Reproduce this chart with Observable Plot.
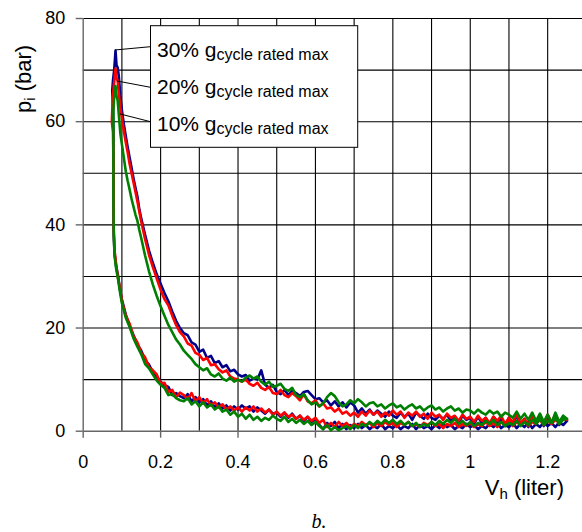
<!DOCTYPE html>
<html><head><meta charset="utf-8">
<script src="https://cdn.jsdelivr.net/npm/d3@7"></script>
<script src="https://cdn.jsdelivr.net/npm/@observablehq/plot@0.6"></script>
<style>
body{margin:0;background:#fff;}
#chart{width:582px;height:532px;overflow:hidden;}
</style></head><body><div id="chart"></div>
<script>
// ---- axis ticks / grid ----
const xTicks = [0, 0.2, 0.4, 0.6, 0.8, 1, 1.2];
const xGrid = [0.1,0.2,0.3,0.4,0.5,0.6,0.7,0.8,0.9,1.0,1.1,1.2];
const yTicks = [0, 20, 40, 60, 80];
const yGrid = [10,20,30,40,50,60,70,80];
const seriesNames = ["30%", "20%", "10%"];
const legendSub = "cycle rated max";

// ---- shared volume grid for the noisy low-pressure part (liter) ----
const vTail = [
0.26,0.27,0.28,0.29,0.30,0.31,0.32,0.33,0.34,0.35,
0.36,0.37,0.38,0.39,0.40,0.41,0.42,0.43,0.44,0.45,
0.46,0.47,0.48,0.49,0.50,0.51,0.52,0.53,0.54,0.55,
0.56,0.57,0.58,0.59,0.60,0.61,0.62,0.63,0.64,0.65,
0.66,0.67,0.68,0.69,0.70,0.71,0.72,0.73,0.74,0.75,
0.76,0.77,0.78,0.79,0.80,0.81,0.82,0.83,0.84,0.85,
0.86,0.87,0.88,0.89,0.90,0.91,0.92,0.93,0.94,0.95,
0.96,0.97,0.98,0.99,1.00,1.01,1.02,1.03,1.04,1.05,
1.06,1.07,1.08,1.09,1.10,1.11,1.12,1.13,1.14,1.15,
1.16,1.17,1.18,1.19,1.20,1.21,1.22,1.23,1.24,1.25];

// expansion near peak (volume grid shared)
const expV = [0.0835,0.086,0.089,0.092,0.096,0.10,0.105,0.11,0.115,0.12,0.125,0.13,0.135,0.14,0.145,0.15,0.16,0.17,0.18,0.19,0.20,0.21,0.22,0.23,0.24,0.25];

// ---- 30% (blue) ----
const blueCompV = [0.25,0.24,0.23,0.22,0.21,0.20,0.19,0.18,0.17,0.16,0.15,0.14,0.13,0.12,0.11,0.10,0.095,0.09,0.085,0.081,0.079,0.078,0.078,0.078,0.077,0.075,0.077,0.080,0.082,0.0835];
const blueCompP = [6.8,7.4,7.0,8.6,8.9,9.6,10.6,11.4,12.9,13.8,15.6,16.8,18.6,20.4,22.6,25.5,27.4,30.2,32.0,34.5,38,45,52,58,63,66,68,70,72,73.8];
const blueExpP = [73.8,71.0,70.5,68.8,65.0,62.2,59.5,57.2,55.0,53.0,51.0,49.0,47.2,45.5,43.0,41.2,38.0,35.0,32.6,30.4,28.6,26.8,25.2,23.2,21.4,20.0];
const blueUpper = [
19.0,18.6,17.2,16.8,15.4,15.8,14.2,14.6,13.2,13.6,
12.4,12.8,11.6,11.9,11.0,10.6,10.9,9.8,10.2,10.0,
11.8,9.0,8.4,9.0,7.6,7.2,8.0,7.0,7.8,7.4,
6.8,7.6,7.8,7.0,6.2,6.4,5.6,6.0,5.0,5.8,
4.8,5.6,4.6,5.6,5.0,3.6,4.4,3.4,4.2,3.2,
4.0,3.4,2.8,3.8,3.0,2.6,3.6,2.8,3.4,2.2,
3.6,3.0,2.4,3.4,2.6,2.2,3.0,2.4,3.2,2.0,
2.8,1.6,3.0,2.2,2.6,1.4,2.8,1.6,2.6,1.2,
2.8,1.8,2.4,1.0,2.6,1.4,3.0,1.2,2.4,0.8,
2.8,1.2,3.2,1.0,2.6,1.4,3.4,1.2,2.8,2.0];
const blueLower = [
6.4,7.2,5.8,6.6,5.6,6.2,5.0,5.8,4.6,5.4,
4.4,5.0,4.0,4.8,4.2,5.0,4.4,4.8,3.8,4.6,
4.0,3.4,4.2,3.4,3.6,2.8,3.6,2.6,3.4,2.4,
3.0,2.0,2.8,1.8,2.4,1.2,0.4,1.6,1.0,1.8,
0.6,1.4,0.4,1.2,0.6,1.4,0.6,1.2,0.4,1.0,
0.6,1.4,0.4,1.0,0.6,1.2,0.4,1.0,0.6,1.4,
0.4,1.2,0.6,1.0,0.4,1.2,0.6,1.4,0.8,1.2,
0.4,1.0,0.6,1.4,0.8,1.2,0.4,1.0,0.6,1.4,
0.8,1.6,0.6,1.2,0.8,1.6,0.6,1.4,0.8,1.8,
0.6,1.4,0.8,1.8,1.0,1.6,0.8,1.8,1.2,2.0];

// ---- 20% (red) ----
const redCompV = [0.25,0.24,0.23,0.22,0.21,0.20,0.19,0.18,0.17,0.16,0.15,0.14,0.13,0.12,0.11,0.10,0.095,0.09,0.085,0.081,0.079,0.078,0.078,0.077,0.074,0.076,0.079,0.082,0.0835];
const redCompP = [7.5,6.6,8.0,7.6,9.4,9.2,11.0,11.8,12.4,14.3,15.2,17.2,18.4,20.8,22.4,25.2,27.8,29.6,32.4,35,39,46,53,58,60,64,67,69,70.3];
const redExpP = [70.3,68.4,68.0,65.5,62.8,60.6,58.2,56.0,54.0,51.8,50.0,48.2,46.4,44.6,42.6,40.6,37.2,34.2,31.8,29.6,27.4,25.6,24.4,22.4,20.6,19.2];
const redUpper = [
18.4,17.0,16.6,15.2,14.8,13.8,14.2,12.8,13.0,12.0,
11.4,11.8,10.6,10.2,10.0,9.6,10.0,9.2,8.8,9.4,
8.4,8.0,8.6,7.4,7.2,8.0,7.0,6.6,7.4,6.8,
6.0,7.2,5.8,5.4,6.0,4.8,5.4,4.4,4.6,3.8,
4.4,3.4,3.8,3.0,3.6,2.8,3.8,3.0,4.0,3.2,
3.8,2.8,3.6,3.0,4.0,3.2,3.8,2.6,3.6,3.0,
3.8,2.8,3.4,2.4,3.6,2.8,3.2,2.2,3.4,2.6,
3.0,2.0,3.2,2.4,2.8,1.8,3.0,2.0,2.6,1.6,
2.8,2.0,3.0,1.4,2.6,1.8,3.2,1.6,2.4,1.2,
3.0,1.6,2.6,1.4,3.2,1.8,2.6,1.4,2.8,2.2];
const redLower = [
7.0,6.2,7.4,5.8,6.6,5.4,6.2,5.0,5.6,4.6,
5.2,4.2,4.8,4.0,4.6,3.8,4.6,4.0,4.8,3.8,
4.4,3.6,4.2,3.2,3.8,3.0,3.6,2.8,3.2,2.4,
3.0,2.2,2.8,2.0,2.6,1.6,2.2,0.8,1.6,0.8,
1.8,1.0,1.6,0.8,1.4,1.0,1.8,1.2,1.6,0.8,
1.6,1.0,1.8,1.2,1.6,0.8,1.6,1.2,1.8,1.0,
1.4,0.8,1.6,1.2,1.8,1.0,1.4,0.6,1.4,1.0,
1.6,0.8,1.4,1.0,1.6,0.8,1.4,1.0,1.8,1.0,
1.6,0.8,1.8,1.2,2.0,1.0,1.8,1.2,2.0,1.0,
1.8,1.4,2.2,1.2,2.0,1.4,2.2,1.6,2.4,2.2];

// ---- 10% (green) ----
const greenCompV = [0.25,0.24,0.23,0.22,0.21,0.20,0.19,0.18,0.17,0.16,0.15,0.14,0.13,0.12,0.11,0.10,0.095,0.09,0.085,0.081,0.079,0.078,0.078,0.078,0.078,0.080,0.082,0.0835];
const greenCompP = [6.0,6.4,7.2,7.0,8.4,9.0,9.8,11.0,12.2,13.0,14.9,16.4,18.0,20.2,22.0,24.8,27.0,29.5,31.6,34.0,38,45,52,58,62,65,66.2,66.9];
const greenExpP = [66.9,65.0,64.1,61.4,57.7,55.6,53.0,50.4,48.5,46.8,45.0,43.5,42.0,40.8,39.0,37.4,34.0,31.0,28.4,26.2,24.2,22.4,20.6,19.2,17.8,16.8];
const greenUpper = [
15.6,14.8,14.0,13.0,12.4,11.8,12.2,11.0,10.6,11.2,
10.2,9.8,10.4,9.6,10.0,9.6,10.4,10.8,10.2,10.6,
9.6,9.0,9.6,8.6,8.8,9.2,8.2,7.8,8.4,7.0,
6.6,7.2,6.0,5.2,5.6,4.8,5.4,6.6,7.4,6.8,
5.6,4.8,5.2,6.0,5.4,6.2,5.6,4.8,5.4,5.6,
4.8,5.2,4.4,5.0,5.4,4.6,5.0,4.2,4.8,5.2,
4.4,4.8,4.0,4.6,5.0,4.2,4.6,3.8,4.4,4.8,
4.0,4.4,3.6,4.2,4.0,3.4,4.2,3.6,3.2,4.0,
3.4,3.8,2.8,3.6,3.2,2.6,3.8,2.4,3.4,2.2,
3.6,2.0,3.4,1.8,3.2,1.6,3.6,1.8,3.0,2.4];
const greenLower = [
5.8,6.4,5.2,5.8,4.8,5.6,4.6,5.2,4.2,4.8,
3.8,4.2,3.2,3.8,2.8,3.4,2.4,3.2,2.2,2.8,
2.0,2.6,2.2,3.0,2.4,2.0,2.8,1.8,2.4,1.6,
2.2,1.4,2.0,1.2,1.8,1.0,0.4,1.2,0.2,0.8,
0.2,0.6,1.0,0.4,1.2,0.6,1.4,1.0,1.8,1.2,
2.0,1.4,2.2,1.6,2.2,1.4,2.0,1.2,1.8,1.0,
1.6,0.8,1.4,1.0,1.8,1.2,2.0,1.4,2.2,1.6,
2.4,1.4,2.0,1.2,1.8,1.0,1.6,1.2,2.0,1.4,
2.2,1.2,1.8,1.0,1.6,1.2,2.0,1.0,1.8,1.2,
2.2,1.4,2.4,1.2,2.0,1.6,2.6,1.4,2.2,2.4];

// peak points the legend leaders start from
const leaderV = [0.0835, 0.088, 0.0964];
const leaderP = [73.8, 67.8, 61.4];

function loop(name, lower, compV, compP, expP, upper) {
  const rows = [];
  for (let i = vTail.length - 1; i >= 0; i--) rows.push({V: vTail[i], p: lower[i], s: name});
  compV.forEach((v, i) => rows.push({V: v, p: compP[i], s: name}));
  expV.forEach((v, i) => rows.push({V: v, p: expP[i], s: name}));
  vTail.forEach((v, i) => rows.push({V: v, p: upper[i], s: name}));
  return rows;
}
const blue = loop(seriesNames[0], blueLower, blueCompV, blueCompP, blueExpP, blueUpper);
const red = loop(seriesNames[1], redLower, redCompV, redCompP, redExpP, redUpper);
const green = loop(seriesNames[2], greenLower, greenCompV, greenCompP, greenExpP, greenUpper);

const font = "'Liberation Sans', Arial, sans-serif";
const lineOpts = {x: "V", y: "p", strokeWidth: 2.6, strokeLinejoin: "round", strokeLinecap: "round"};

const plot = Plot.plot({
  width: 582, height: 532,
  marginLeft: 82.7, marginRight: 0, marginTop: 18, marginBottom: 101.3,
  style: {fontFamily: font, background: "#fff", color: "#000", overflow: "hidden"},
  x: {domain: [0, 1.29]},
  y: {domain: [0, 80]},
  marks: [
    Plot.gridX(xGrid, {stroke: "#000", strokeOpacity: 1, strokeWidth: 1.1}),
    Plot.gridY(yGrid, {stroke: "#000", strokeOpacity: 1, strokeWidth: 1.1}),
    Plot.ruleX([0], {stroke: "#666", strokeWidth: 1.4}),
    Plot.ruleY([0], {stroke: "#666", strokeWidth: 1.4}),
    Plot.axisX(xTicks, {tickSize: 7, tickPadding: 17, fontSize: 18, stroke: "#666", strokeWidth: 1.4, label: null, tickFormat: d => String(d)}),
    Plot.axisY(yTicks, {tickSize: 7, tickPadding: 11, fontSize: 18, stroke: "#666", strokeWidth: 1.4, label: null}),
    Plot.line(blue, {...lineOpts, stroke: "#00008b"}),
    Plot.line(red, {...lineOpts, stroke: "#ff0000"}),
    Plot.line(green, {...lineOpts, stroke: "#008000"})
  ]
});
document.getElementById("chart").appendChild(plot);

// ---- annotations: titles, legend box, leaders ----
const svg = d3.select(plot);
const xs = plot.scale("x"), ys = plot.scale("y");

// y title
const yt = svg.append("text").attr("transform", "translate(31,79) rotate(-90)")
  .attr("text-anchor", "middle").attr("font-family", font).attr("font-size", 22).attr("fill", "#000");
yt.append("tspan").text("p");
yt.append("tspan").attr("font-size", 15).attr("dy", 4).text("i");
yt.append("tspan").attr("dy", -4).text(" (bar)");

// x title
const xt = svg.append("text").attr("x", 564).attr("y", 495)
  .attr("text-anchor", "end").attr("font-family", font).attr("font-size", 22).attr("fill", "#000");
xt.append("tspan").text("V");
xt.append("tspan").attr("font-size", 15).attr("dy", 4).text("h");
xt.append("tspan").attr("dy", -4).text(" (liter)");

// caption
svg.append("text").attr("x", 319).attr("y", 528).attr("text-anchor", "middle")
  .attr("font-family", "'Liberation Serif', 'Times New Roman', serif").attr("font-style", "italic")
  .attr("font-size", 20).attr("fill", "#000").text("b.");

// legend box
const box = {x: 150.5, y: 25.7, w: 207.2, h: 121.6};
svg.append("rect").attr("x", box.x).attr("y", box.y).attr("width", box.w).attr("height", box.h)
  .attr("fill", "#fff").attr("stroke", "#000").attr("stroke-width", 1);
const baselines = [56.7, 94, 130.5];
const leaderEnds = [46.7, 87.3, 121.7];
seriesNames.forEach((n, i) => {
  svg.append("line")
    .attr("x1", xs.apply(leaderV[i])).attr("y1", ys.apply(leaderP[i]))
    .attr("x2", box.x).attr("y2", leaderEnds[i])
    .attr("stroke", "#000").attr("stroke-width", 1);
  const t = svg.append("text").attr("x", 157).attr("y", baselines[i]).attr("text-anchor", "start")
    .attr("font-family", font).attr("font-size", 21).attr("fill", "#000");
  t.append("tspan").text(n + " g");
  t.append("tspan").attr("font-size", 16).attr("dy", 3).text(legendSub);
});
</script>
</body></html>
